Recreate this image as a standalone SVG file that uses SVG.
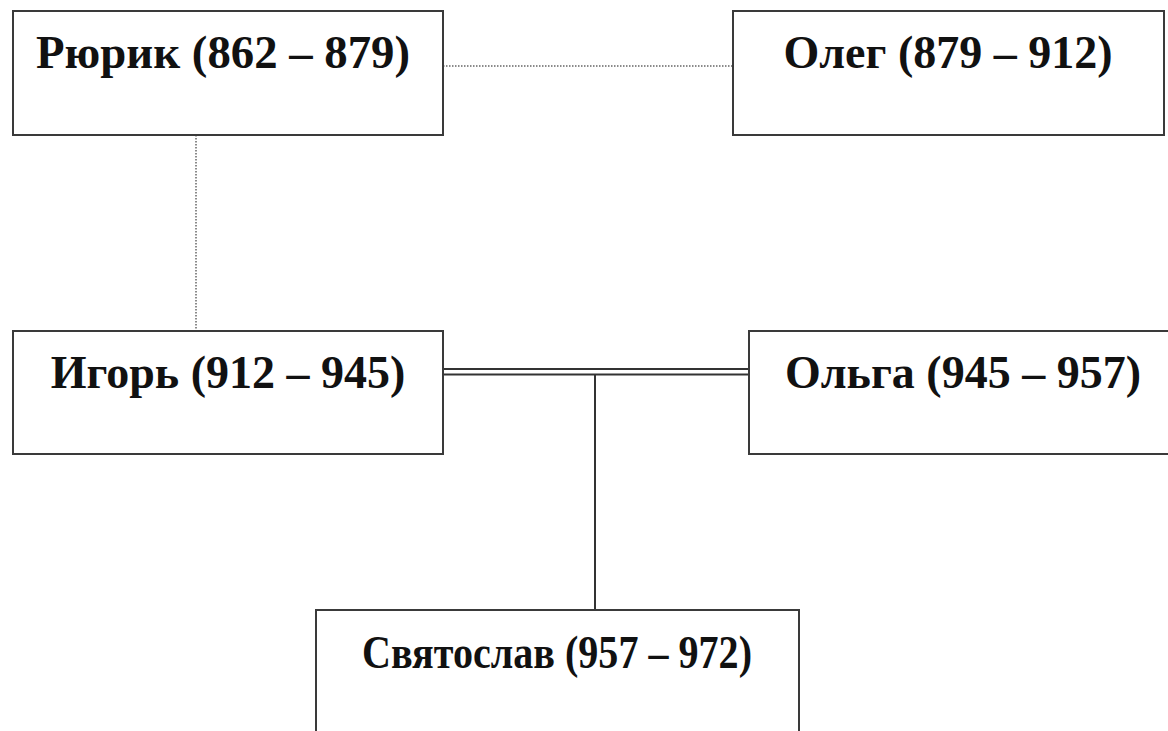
<svg xmlns="http://www.w3.org/2000/svg" width="1168" height="731" viewBox="0 0 1168 731">
<style>
.box{fill:#fff;stroke:#3a3a3a;stroke-width:2}
.lbl{font-family:"Liberation Serif","Times New Roman",serif;font-weight:bold;font-size:46px;fill:#111;text-anchor:middle}
.dot{stroke:#666;stroke-width:1.5;stroke-dasharray:1.5 1.5;fill:none}
.solid{stroke:#333;stroke-width:2;fill:none}
</style>
<rect width="1168" height="731" fill="#fff"/>
<g id="connectors">
<line class="dot" x1="443" y1="66" x2="733" y2="66"/>
<line class="dot" x1="196" y1="135" x2="196" y2="331"/>
<line class="solid" x1="443" y1="369" x2="749" y2="369"/>
<line class="solid" x1="443" y1="374.5" x2="749" y2="374.5"/>
<line class="solid" x1="595" y1="375" x2="595" y2="610"/>
</g>
<g id="rurik"><rect class="box" x="13" y="11" width="430" height="124"/><text class="lbl" x="223" y="68" textLength="374" lengthAdjust="spacingAndGlyphs">Рюрик (862 – 879)</text></g>
<g id="oleg"><rect class="box" x="733" y="11" width="431" height="124"/><text class="lbl" x="948" y="68">Олег (879 – 912)</text></g>
<g id="igor"><rect class="box" x="13" y="331" width="430" height="123"/><text class="lbl" x="228" y="388">Игорь (912 – 945)</text></g>
<g id="olga"><rect class="box" x="749" y="331" width="430" height="123"/><text class="lbl" x="963" y="388">Ольга (945 – 957)</text></g>
<g id="svyatoslav"><rect class="box" x="316" y="610" width="483" height="130"/><text class="lbl" x="557" y="668" textLength="390" lengthAdjust="spacingAndGlyphs">Святослав (957 – 972)</text></g>
</svg>
